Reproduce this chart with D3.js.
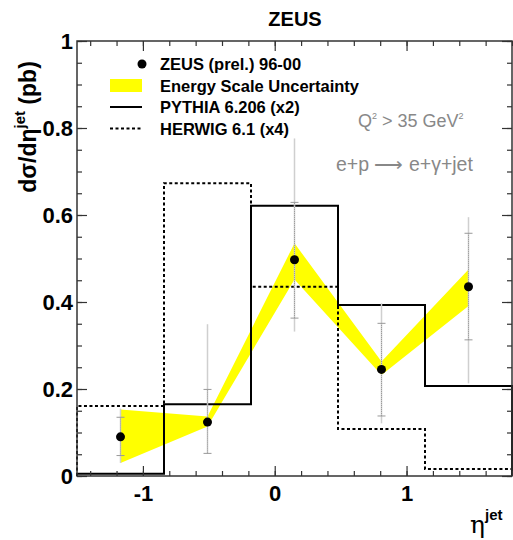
<!DOCTYPE html>
<html>
<head>
<meta charset="utf-8">
<script src="https://cdn.jsdelivr.net/npm/d3@7"></script>
<style>
  body { margin: 0; background: #fff; }
  svg { display: block; font-family: "Liberation Sans", Arial, sans-serif; }
</style>
</head>
<body>
<svg id="chart" width="513" height="540"></svg>
<script>
// bin edges in eta^jet and the two MC histograms (already scaled)
const binEdges = [-1.5, -0.84, -0.18, 0.48, 1.14, 1.8];
const pythia = [0.005, 0.165, 0.621, 0.393, 0.207];
const herwig = [0.161, 0.673, 0.435, 0.108, 0.016];

// ZEUS data points
const etaCentres = [-1.17, -0.51, 0.15, 0.81, 1.47];
const zeus = [0.090, 0.124, 0.497, 0.245, 0.435];
const statLo = [0.047, 0.052, 0.363, 0.138, 0.313];
const statHi = [0.135, 0.199, 0.629, 0.351, 0.558];
const totLo = [0.030, 0.052, 0.332, 0.121, 0.213];
const totHi = [0.155, 0.349, 0.776, 0.397, 0.595];

// energy scale uncertainty band
const bandLo = [0.030, 0.114, 0.452, 0.232, 0.391];
const bandHi = [0.153, 0.137, 0.535, 0.263, 0.475];

const xTicks = [-1, 0, 1];
const yTicks = [0, 0.2, 0.4, 0.6, 0.8, 1];
const yTickLabels = ["0", "0.2", "0.4", "0.6", "0.8", "1"];

const legendLabels = ["ZEUS (prel.) 96-00", "Energy Scale Uncertainty", "PYTHIA 6.206 (x2)", "HERWIG 6.1 (x4)"];

const svg = d3.select("#chart"),
    cs = {
        left: 77, right: 512, top: 41, bottom: 476,
        axisColor: "#333",
        band: "#ffff00",
        grey: "#888"
    };

const x = d3.scaleLinear().domain([-1.5, 1.8]).range([cs.left, cs.right]);
const y = d3.scaleLinear().domain([0, 1]).range([cs.bottom, cs.top]);

svg.append("rect").attr("width", 513).attr("height", 540).attr("fill", "#fff");

// band
const bandPts = etaCentres.map((e, i) => [x(e), y(bandHi[i])])
    .concat(etaCentres.map((e, i) => [x(e), y(bandLo[i])]).reverse());
svg.append("path")
    .attr("d", d3.line()(bandPts) + "Z")
    .attr("fill", cs.band);

// histograms
function histPath(vals) {
    let pts = [[x(binEdges[0]), y(0)]];
    vals.forEach((v, i) => {
        pts.push([x(binEdges[i]), y(v)]);
        pts.push([x(binEdges[i + 1]), y(v)]);
    });
    pts.push([x(binEdges[binEdges.length - 1]), y(0)]);
    return d3.line()(pts);
}
svg.append("path").attr("d", histPath(herwig))
    .attr("fill", "none").attr("stroke", "#000").attr("stroke-width", 2)
    .attr("stroke-dasharray", "3,2.5");
svg.append("path").attr("d", histPath(pythia))
    .attr("fill", "none").attr("stroke", "#000").attr("stroke-width", 2);

// error bars
const eb = svg.append("g");
etaCentres.forEach((e, i) => {
    eb.append("line")
        .attr("x1", x(e)).attr("x2", x(e))
        .attr("y1", y(totLo[i])).attr("y2", y(totHi[i]))
        .attr("stroke", "#cfcfcf").attr("stroke-width", 1.5);
    eb.append("line")
        .attr("x1", x(e)).attr("x2", x(e))
        .attr("y1", y(statLo[i])).attr("y2", y(statHi[i]))
        .attr("stroke", "#999").attr("stroke-width", 1)
        .attr("stroke-dasharray", "1,1");
    [statLo[i], statHi[i]].forEach(v => {
        eb.append("line")
            .attr("x1", x(e) - 4).attr("x2", x(e) + 4)
            .attr("y1", y(v)).attr("y2", y(v))
            .attr("stroke", "#999").attr("stroke-width", 1);
    });
});

// points
svg.append("g").selectAll("circle")
    .data(zeus)
    .enter().append("circle")
    .attr("cx", (d, i) => x(etaCentres[i]))
    .attr("cy", d => y(d))
    .attr("r", 4.5)
    .attr("fill", "#000");

// axes
const xMinor = d3.range(-1.4, 1.81, 0.2).map(v => +v.toFixed(2));
const yMinor = d3.range(0, 1.001, 0.05).map(v => +v.toFixed(2));

function drawAxis(axis, tx, ty) {
    let g = svg.append("g").attr("transform", "translate(" + tx + "," + ty + ")").call(axis);
    g.select(".domain").remove();
    g.selectAll("line").attr("stroke", cs.axisColor).attr("stroke-width", 1.2);
    return g;
}

drawAxis(d3.axisBottom(x).tickValues(xMinor).tickSize(-5).tickFormat(""), 0, cs.bottom);
drawAxis(d3.axisTop(x).tickValues(xMinor).tickSize(-5).tickFormat(""), 0, cs.top);
drawAxis(d3.axisLeft(y).tickValues(yMinor).tickSize(-5).tickFormat(""), cs.left, 0);
drawAxis(d3.axisRight(y).tickValues(yMinor).tickSize(-5).tickFormat(""), cs.right, 0);
drawAxis(d3.axisTop(x).tickValues(xTicks).tickSize(-10).tickFormat(""), 0, cs.top);
drawAxis(d3.axisRight(y).tickValues(yTicks).tickSize(-10).tickFormat(""), cs.right, 0);

let gx = drawAxis(d3.axisBottom(x).tickValues(xTicks).tickSize(-10).tickPadding(9)
    .tickFormat(d => d === -1 ? "-1" : String(d)), 0, cs.bottom);
gx.selectAll("text").attr("font-size", 22).attr("font-weight", "bold").attr("fill", "#000")
    .attr("font-family", "Liberation Sans, Arial, sans-serif");

let gy = drawAxis(d3.axisLeft(y).tickValues(yTicks).tickSize(-10).tickPadding(4)
    .tickFormat((d, i) => yTickLabels[i]), cs.left, 0);
gy.selectAll("text").attr("font-size", 22).attr("font-weight", "bold").attr("fill", "#000")
    .attr("font-family", "Liberation Sans, Arial, sans-serif");

svg.append("rect")
    .attr("x", cs.left).attr("y", cs.top)
    .attr("width", cs.right - cs.left).attr("height", cs.bottom - cs.top)
    .attr("fill", "none").attr("stroke", cs.axisColor).attr("stroke-width", 1.5);

// title
svg.append("text").attr("x", 295).attr("y", 26).attr("text-anchor", "middle")
    .attr("font-size", 20).attr("font-weight", "bold").text("ZEUS");

// y label
const yl = svg.append("text")
    .attr("transform", "translate(36,127) rotate(-90)")
    .attr("text-anchor", "middle")
    .attr("font-size", 23).attr("font-weight", "bold");
yl.append("tspan").text("dσ/dη");
yl.append("tspan").attr("font-size", 15).attr("dy", -11).text("jet");
yl.append("tspan").attr("dy", 11).text(" (pb)");

// x label
const xl = svg.append("text").attr("x", 470).attr("y", 533);
xl.append("tspan").attr("font-size", 25).attr("font-family", "DejaVu Serif, serif").text("η");
xl.append("tspan").attr("font-size", 15).attr("font-weight", "bold").attr("dy", -13).text("jet");

// legend
const lg = svg.append("g");
const rowY = [64, 85.5, 107, 128.5];
lg.append("circle").attr("cx", 142).attr("cy", rowY[0]).attr("r", 4.5).attr("fill", "#000");
lg.append("rect").attr("x", 110).attr("y", rowY[1] - 6.5).attr("width", 32).attr("height", 13).attr("fill", cs.band);
lg.append("line").attr("x1", 110).attr("x2", 142).attr("y1", rowY[2]).attr("y2", rowY[2])
    .attr("stroke", "#000").attr("stroke-width", 2);
lg.append("line").attr("x1", 110).attr("x2", 142).attr("y1", rowY[3]).attr("y2", rowY[3])
    .attr("stroke", "#000").attr("stroke-width", 2).attr("stroke-dasharray", "3,2.5");
lg.selectAll("text.lab").data(legendLabels).enter().append("text")
    .attr("class", "lab")
    .attr("x", 160).attr("y", (d, i) => rowY[i] + 6)
    .attr("font-size", 16.5).attr("font-weight", "bold")
    .text(d => d);

// annotations
const q = svg.append("text").attr("x", 358).attr("y", 127).attr("fill", cs.grey).attr("font-size", 18);
q.append("tspan").text("Q");
q.append("tspan").attr("font-size", 9).attr("dy", -8).text("2");
q.append("tspan").attr("dy", 8).text(" > 35 GeV");
q.append("tspan").attr("font-size", 9).attr("dy", -8).text("2");

svg.append("text").attr("x", 336).attr("y", 171).attr("fill", cs.grey).attr("font-size", 19.5)
    .text("e+p ⟶ e+γ+jet");
</script>
</body>
</html>
